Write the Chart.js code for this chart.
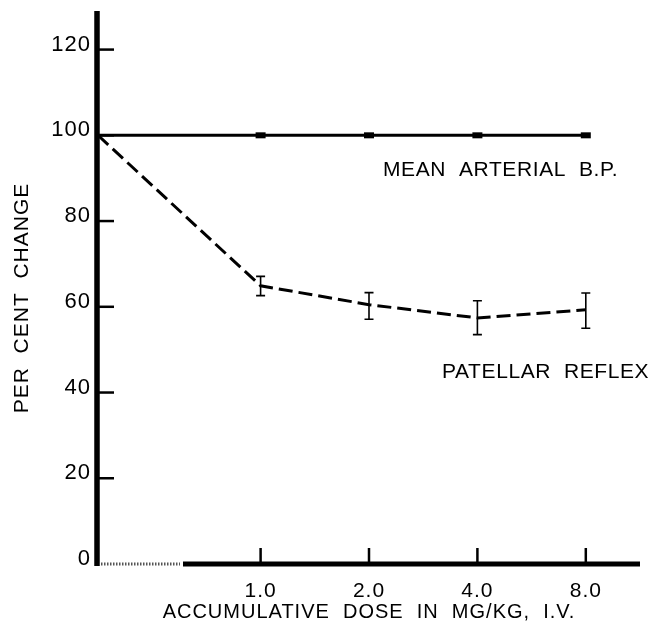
<!DOCTYPE html>
<html>
<head>
<meta charset="utf-8">
<script src="https://cdn.jsdelivr.net/npm/chart.js@4.4.1/dist/chart.umd.min.js"></script>
<style>
    html, body { margin: 0; padding: 0; background: #fff; }
    #grafica { display: block; }
</style>
</head>
<body>
<canvas id="grafica" width="654" height="624"></canvas>
<script>
// dosis acumulada, etiquetas del eje x
const dosis = ['1.0', '2.0', '4.0', '8.0'];
// lugar de cada punto sobre el eje x (0 = control)
const posiciones = [0, 1.5, 2.5, 3.5, 4.5];
// presion arterial media, % del control
const presion = [100, 100, 100, 100, 100];
// reflejo patelar, % del control, con sus barras de error
const reflejo = [100, 64.9, 60.5, 57.4, 59.3];
const reflejoAlto = [null, 67.1, 63.3, 61.4, 63.2];
const reflejoBajo = [null, 62.6, 57.1, 53.5, 55.0];
// marcas del eje y
const ticksY = [0, 20, 40, 60, 80, 100, 120];

const fuente = "'Liberation Sans', Arial, sans-serif";

const trazos = {
    id: 'trazos',
    beforeDraw(chart) {
        chart.ctx.letterSpacing = '1px';
    },
    afterDatasetsDraw(chart) {
        const { ctx, chartArea, scales: { x, y } } = chart;
        ctx.save();
        ctx.strokeStyle = '#000';
        ctx.fillStyle = '#000';

        // barras de error
        ctx.lineWidth = 1.6;
        posiciones.forEach((p, i) => {
            if (reflejoAlto[i] == null) return;
            const px = x.getPixelForValue(p);
            const arriba = y.getPixelForValue(reflejoAlto[i]);
            const abajo = y.getPixelForValue(reflejoBajo[i]);
            ctx.beginPath();
            ctx.moveTo(px, arriba); ctx.lineTo(px, abajo);
            ctx.moveTo(px - 4.5, arriba); ctx.lineTo(px + 4.5, arriba);
            ctx.moveTo(px - 4.5, abajo); ctx.lineTo(px + 4.5, abajo);
            ctx.stroke();
        });

        // eje y
        ctx.lineWidth = 5.5;
        ctx.beginPath();
        ctx.moveTo(chartArea.left - 1, chartArea.top);
        ctx.lineTo(chartArea.left - 1, chartArea.bottom + 2);
        ctx.stroke();

        // marcas hacia adentro del eje y
        ctx.lineWidth = 2.5;
        y.ticks.forEach(t => {
            if (t.value === 0) return;
            const py = y.getPixelForValue(t.value);
            ctx.beginPath();
            ctx.moveTo(chartArea.left, py);
            ctx.lineTo(chartArea.left + 16, py);
            ctx.stroke();
        });

        // eje x: tramo punteado y tramo grueso
        ctx.lineWidth = 3;
        ctx.strokeStyle = '#555';
        ctx.setLineDash([1.5, 1.5]);
        ctx.beginPath();
        ctx.moveTo(chartArea.left + 3, chartArea.bottom);
        ctx.lineTo(chartArea.left + 82, chartArea.bottom);
        ctx.stroke();
        ctx.setLineDash([]);
        ctx.strokeStyle = '#000';
        ctx.lineWidth = 5;
        ctx.beginPath();
        ctx.moveTo(chartArea.left + 85, chartArea.bottom);
        ctx.lineTo(chartArea.right, chartArea.bottom);
        ctx.stroke();

        ctx.lineWidth = 2.5;
        x.ticks.forEach(t => {
            const px = x.getPixelForValue(t.value);
            ctx.beginPath();
            ctx.moveTo(px, chartArea.bottom);
            ctx.lineTo(px, chartArea.bottom - 16);
            ctx.stroke();
        });

        // textos
        ctx.letterSpacing = '0.6px';
        ctx.font = '21px ' + fuente;
        ctx.textBaseline = 'middle';
        ctx.textAlign = 'left';
        ctx.fillText('MEAN  ARTERIAL  B.P.', 383, 170);
        ctx.fillText('PATELLAR  REFLEX', 442, 372);

        ctx.letterSpacing = '1px';
        ctx.save();
        ctx.translate(22, 298);
        ctx.rotate(-Math.PI / 2);
        ctx.textAlign = 'center';
        ctx.fillText('PER  CENT  CHANGE', 0, 0);
        ctx.restore();

        ctx.restore();
    }
};

const ctx = document.getElementById('grafica').getContext('2d');

const grafica = new Chart(ctx, {
    type: 'line',
    data: {
        datasets: [{
            label: 'Mean arterial B.P.',
            data: posiciones.map((p, i) => ({ x: p, y: presion[i] })),
            borderColor: '#000',
            backgroundColor: '#000',
            borderWidth: 3,
            pointStyle: 'line',
            pointRadius: [0, 5, 5, 5, 5],
            pointBorderWidth: 6,
            pointBorderColor: '#000'
        }, {
            label: 'Patellar reflex',
            data: posiciones.map((p, i) => ({ x: p, y: reflejo[i] })),
            borderColor: '#000',
            borderWidth: 3,
            borderDash: [14, 6],
            pointRadius: 0
        }]
    },
    options: {
        responsive: false,
        animation: false,
        events: [],
        layout: { padding: { top: 8, right: 14, left: 0, bottom: 0 } },
        scales: {
            x: {
                type: 'linear',
                min: 0,
                max: 5,
                grid: { display: false, drawTicks: false },
                border: { display: false },
                afterBuildTicks: scale => {
                    scale.ticks = posiciones.slice(1).map(v => ({ value: v }));
                },
                afterFit: scale => { scale.height = 60; },
                ticks: {
                    padding: 15,
                    color: '#000',
                    maxRotation: 0,
                    font: { family: fuente, size: 21 },
                    callback: (value, index) => dosis[index]
                },
                title: {
                    display: true,
                    text: 'ACCUMULATIVE  DOSE  IN  MG/KG,  I.V.',
                    color: '#000',
                    font: { family: fuente, size: 20 },
                    padding: { top: 0, bottom: 0 }
                }
            },
            y: {
                min: 0,
                max: 129,
                grid: { display: false, drawTicks: false },
                border: { display: false },
                afterBuildTicks: scale => {
                    scale.ticks = ticksY.map(v => ({ value: v }));
                },
                afterFit: scale => { scale.width = 98; },
                ticks: {
                    padding: 7,
                    labelOffset: -5,
                    color: '#000',
                    font: { family: fuente, size: 22, lineHeight: 0.05 }
                }
            }
        },
        plugins: {
            legend: { display: false },
            tooltip: { enabled: false }
        }
    },
    plugins: [trazos]
});
</script>
</body>
</html>
